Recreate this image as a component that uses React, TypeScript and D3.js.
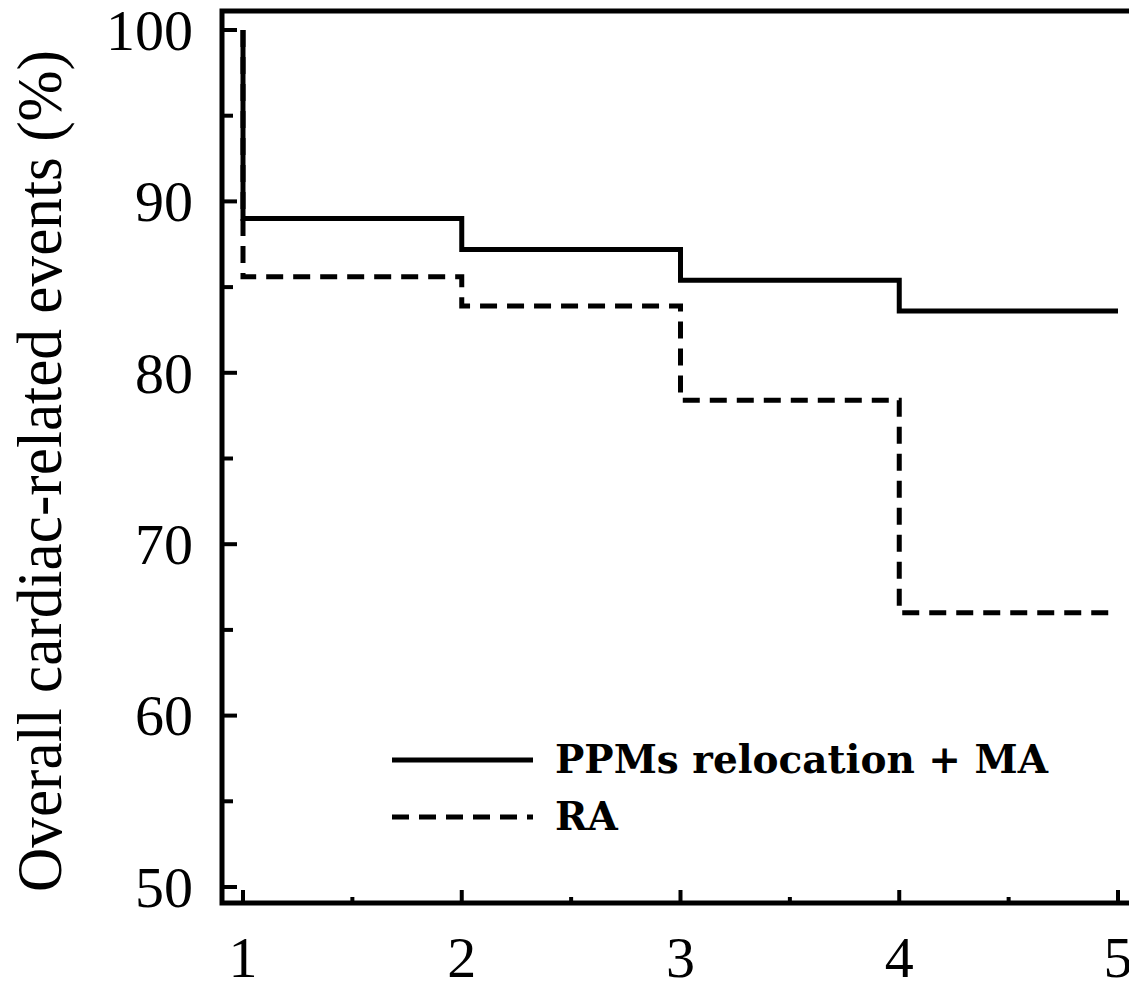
import React, { useEffect, useRef } from 'react';
import * as d3 from 'd3';

// step times (years) and survival (%) after each step
const years = [1, 2, 3, 4, 5];
const ppmValues = [100, 89.0, 87.2, 85.4, 83.6];
const raValues = [100, 85.6, 83.9, 78.4, 66.0];
const yTicks = [50, 60, 70, 80, 90, 100];
const yMinor = [55, 65, 75, 85, 95];
const xTicks = [1, 2, 3, 4, 5];
const xMinor = [1.5, 2.5, 3.5, 4.5];
const legendLabels = ['PPMs relocation + MA', 'RA'];

const W = 1129, H = 983;
const SERIF = 'Liberation Serif';

function stepPoints(vals: number[]) {
  // vertical drop at year 1, then hold each level to the next year
  const pts: [number, number][] = [[years[0], vals[0]], [years[0], vals[1]]];
  for (let i = 1; i < years.length - 1; i++) pts.push([years[i], vals[i + 1]]);
  pts.push([years[years.length - 1], vals[vals.length - 1]]);
  return pts;
}

export default function App() {
  const ref = useRef<SVGSVGElement>(null);

  useEffect(() => {
    const svg = d3.select(ref.current);
    svg.selectAll('*').remove();

    const left = 222, top = 11, bottom = 903, right = 1140;
    const x = d3.scaleLinear().domain([1, 5]).range([243, 1118]);
    const y = d3.scaleLinear().domain([50, 100]).range([887, 30]);

    const g = svg.append('g');

    // frame
    g.append('path')
      .attr('d', `M${right},${top}H${left}V${bottom}H${right}`)
      .attr('fill', 'none').attr('stroke', '#000').attr('stroke-width', 5);

    // y ticks (inward)
    g.selectAll('.ymaj').data(yTicks).join('line').attr('class', 'ymaj')
      .attr('x1', left).attr('x2', left + 15)
      .attr('y1', d => y(d)).attr('y2', d => y(d))
      .attr('stroke', '#000').attr('stroke-width', 4);
    g.selectAll('.ymin').data(yMinor).join('line').attr('class', 'ymin')
      .attr('x1', left).attr('x2', left + 11)
      .attr('y1', d => y(d)).attr('y2', d => y(d))
      .attr('stroke', '#000').attr('stroke-width', 4);
    g.selectAll('.ylab').data(yTicks).join('text').attr('class', 'ylab')
      .attr('x', 193).attr('y', d => y(d)).attr('dy', '0.34em')
      .attr('text-anchor', 'end')
      .attr('font-family', SERIF)
      .attr('font-size', 58)
      .text(d => d);

    // x ticks (inward)
    g.selectAll('.xmaj').data(xTicks).join('line').attr('class', 'xmaj')
      .attr('x1', d => x(d)).attr('x2', d => x(d))
      .attr('y1', bottom).attr('y2', bottom - 13)
      .attr('stroke', '#000').attr('stroke-width', 4);
    g.selectAll('.xmin').data(xMinor).join('line').attr('class', 'xmin')
      .attr('x1', d => x(d)).attr('x2', d => x(d))
      .attr('y1', bottom).attr('y2', bottom - 6)
      .attr('stroke', '#000').attr('stroke-width', 4);
    g.selectAll('.xlab').data(xTicks).join('text').attr('class', 'xlab')
      .attr('x', d => x(d)).attr('y', 977)
      .attr('text-anchor', 'middle')
      .attr('font-family', SERIF)
      .attr('font-size', 58)
      .text(d => d);

    // y axis title
    g.append('text')
      .attr('transform', `translate(61,471) rotate(-90)`)
      .attr('text-anchor', 'middle')
      .attr('textLength', 842).attr('lengthAdjust', 'spacingAndGlyphs')
      .attr('font-family', SERIF)
      .attr('font-size', 64)
      .text('Overall cardiac-related events (%)');

    const line = d3.line<[number, number]>()
      .x(d => x(d[0])).y(d => y(d[1]))
      .curve(d3.curveStepAfter);

    g.append('path').attr('d', line(stepPoints(raValues)))
      .attr('fill', 'none').attr('stroke', '#000').attr('stroke-width', 5)
      .attr('stroke-dasharray', '17 10');
    g.append('path').attr('d', line(stepPoints(ppmValues)))
      .attr('fill', 'none').attr('stroke', '#000').attr('stroke-width', 5);

    // legend
    const lg = g.append('g');
    legendLabels.forEach((lab, i) => {
      const ly = 760 + i * 57;
      lg.append('line')
        .attr('x1', 392).attr('x2', 533).attr('y1', ly).attr('y2', ly)
        .attr('stroke', '#000').attr('stroke-width', 5)
        .attr('stroke-dasharray', i === 1 ? '17 10' : null);
      lg.append('text')
        .attr('x', 555).attr('y', ly + 13)
        .attr('font-family', 'DejaVu Serif')
        .attr('font-weight', 'bold')
        .attr('font-size', 39)
        .text(lab);
    });
  }, []);

  return (
    <svg ref={ref} width={W} height={H}
      style={{ position: 'absolute', left: 0, top: 0, background: '#fff' }} />
  );
}
